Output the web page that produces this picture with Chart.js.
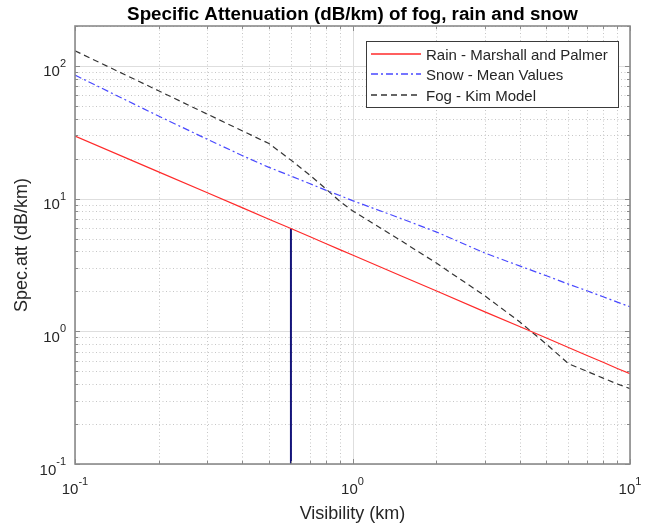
<!DOCTYPE html>
<html>
<head>
<meta charset="utf-8">
<script src="https://cdn.jsdelivr.net/npm/chart.js@4.4.1/dist/chart.umd.min.js"></script>
<style>
  body { margin: 0; background: #fff; }
  #wrap { width: 656px; height: 527px; }
</style>
</head>
<body>
<div id="wrap"><canvas id="attChart" width="656" height="527"></canvas></div>
<script>
// visibility (km) and specific attenuation (dB/km) per weather type
const visibility = [0.1, 0.2, 0.3, 0.4, 0.5, 0.6, 0.7, 0.8, 0.9, 1, 1.5, 2, 3, 4, 5, 6, 7, 8, 9, 10];
const rainAtt = [29.6, 15.9, 11.06, 8.55, 7.0, 5.95, 5.18, 4.59, 4.13, 3.76, 2.61, 2.02, 1.40, 1.087, 0.89, 0.755, 0.657, 0.584, 0.525, 0.48];
const snowAtt = [85.3, 41.9, 28.0, 21.15, 17.2, 14.8, 13.0, 11.6, 10.55, 9.66, 7.07, 5.62, 3.89, 3.11, 2.62, 2.27, 2.02, 1.82, 1.66, 1.53];
const fogAtt = [130, 65, 43.3, 32.5, 26, 19.5, 15.1, 11.9, 9.54, 8.1, 4.8, 3.28, 1.85, 1.18, 0.80, 0.57, 0.499, 0.444, 0.401, 0.37];
const seriesNames = ['Rain - Marshall and Palmer', 'Snow - Mean Values', 'Fog - Kim Model'];

// marker drawn down from the rain curve
const markerVis = 0.6;
const markerIdx = visibility.indexOf(markerVis);

const xRange = [0.1, 10];
const yRange = [0.1, 200];

const FONT = '"Liberation Sans", Arial, Helvetica, sans-serif';

// line styles: rain solid red, snow dash-dot blue, fog dashed black
const lineStyles = [
    { color: '#ff2a2a', dash: [] },
    { color: '#4848ff', dash: [7, 3, 2, 3] },
    { color: '#333333', dash: [6, 4] }
];

function toPoints(vals) {
    return visibility.map((v, i) => ({ x: v, y: vals[i] }));
}

// 1..9 x 10^n values inside [min, max]
function logTicks(min, max) {
    const out = [];
    for (let e = Math.floor(Math.log10(min)); e <= Math.ceil(Math.log10(max)); e++) {
        for (let m = 1; m <= 9; m++) {
            const v = m * Math.pow(10, e);
            if (v >= min * 0.999 && v <= max * 1.001) out.push({ v: v, major: m === 1, exp: e });
        }
    }
    return out;
}

function powLabel(c, exp, x, yBase, align) {
    const base = '10', sup = String(exp);
    c.font = '15px ' + FONT;
    const wb = c.measureText(base).width;
    c.font = '11px ' + FONT;
    const ws = c.measureText(sup).width;
    const left = align === 'center' ? x - (wb + ws) / 2 : x - (wb + ws);
    c.textAlign = 'left';
    c.font = '15px ' + FONT;
    c.fillText(base, left, yBase);
    c.font = '11px ' + FONT;
    c.fillText(sup, left + wb, yBase - 9.5);
}

const axesStyle = {
    id: 'axesStyle',
    beforeDraw(chart) {
        const c = chart.ctx;
        c.save();
        c.fillStyle = '#fff';
        c.fillRect(0, 0, chart.width, chart.height);
        c.restore();
    },
    beforeDatasetsDraw(chart) {
        const c = chart.ctx, a = chart.chartArea;
        const xs = chart.scales.x, ys = chart.scales.y;
        const xt = logTicks(xRange[0], xRange[1]);
        const yt = logTicks(yRange[0], yRange[1]);
        c.save();
        c.lineWidth = 1;
        // minor grid, dotted
        c.strokeStyle = '#c6c6c6';
        c.setLineDash([1, 2.5]);
        xt.filter(t => !t.major).forEach(t => {
            const px = Math.round(xs.getPixelForValue(t.v)) + 0.5;
            c.beginPath(); c.moveTo(px, a.top); c.lineTo(px, a.bottom); c.stroke();
        });
        yt.filter(t => !t.major).forEach(t => {
            const py = Math.round(ys.getPixelForValue(t.v)) + 0.5;
            c.beginPath(); c.moveTo(a.left, py); c.lineTo(a.right, py); c.stroke();
        });
        // major grid, solid
        c.setLineDash([]);
        c.strokeStyle = '#dedede';
        xt.filter(t => t.major).forEach(t => {
            const px = Math.round(xs.getPixelForValue(t.v)) + 0.5;
            c.beginPath(); c.moveTo(px, a.top); c.lineTo(px, a.bottom); c.stroke();
        });
        yt.filter(t => t.major).forEach(t => {
            const py = Math.round(ys.getPixelForValue(t.v)) + 0.5;
            c.beginPath(); c.moveTo(a.left, py); c.lineTo(a.right, py); c.stroke();
        });
        c.restore();
    },
    afterDatasetsDraw(chart) {
        const c = chart.ctx, a = chart.chartArea;
        const xs = chart.scales.x, ys = chart.scales.y;
        const xt = logTicks(xRange[0], xRange[1]);
        const yt = logTicks(yRange[0], yRange[1]);
        c.save();

        // box and inward ticks on all four sides
        c.strokeStyle = '#8a8a8a';
        c.lineWidth = 1;
        xt.forEach(t => {
            const px = Math.round(xs.getPixelForValue(t.v)) + 0.5;
            const len = t.major ? 5 : 3;
            c.beginPath();
            c.moveTo(px, a.bottom); c.lineTo(px, a.bottom - len);
            c.moveTo(px, a.top); c.lineTo(px, a.top + len);
            c.stroke();
        });
        yt.forEach(t => {
            const py = Math.round(ys.getPixelForValue(t.v)) + 0.5;
            const len = t.major ? 5 : 3;
            c.beginPath();
            c.moveTo(a.left, py); c.lineTo(a.left + len, py);
            c.moveTo(a.right, py); c.lineTo(a.right - len, py);
            c.stroke();
        });
        c.lineWidth = 1.6;
        c.strokeRect(Math.round(a.left), Math.round(a.top), Math.round(a.right - a.left), Math.round(a.bottom - a.top));

        // tick labels
        c.fillStyle = '#262626';
        c.textBaseline = 'alphabetic';
        xt.filter(t => t.major).forEach(t => {
            powLabel(c, t.exp, xs.getPixelForValue(t.v), a.bottom + 30, 'center');
        });
        yt.filter(t => t.major).forEach(t => {
            powLabel(c, t.exp, a.left - 9, ys.getPixelForValue(t.v) + 10.5, 'right');
        });

        // axis titles
        c.font = '18px ' + FONT;
        c.textAlign = 'center';
        c.fillText('Visibility (km)', (a.left + a.right) / 2, 519);
        c.save();
        c.translate(27, (a.top + a.bottom) / 2);
        c.rotate(-Math.PI / 2);
        c.fillText('Spec.att (dB/km)', 0, 0);
        c.restore();

        // title
        c.fillStyle = '#000';
        c.font = 'bold 18.8px ' + FONT;
        c.fillText('Specific Attenuation (dB/km) of fog, rain and snow', (a.left + a.right) / 2, 19.5);

        // legend box, top right inside the axes
        const lx = a.right - 264, ly = a.top + 15, lw = 252, lh = 66;
        c.fillStyle = '#fff';
        c.fillRect(lx, ly, lw, lh);
        c.strokeStyle = '#3a3a3a';
        c.lineWidth = 1;
        c.strokeRect(lx + 0.5, ly + 0.5, lw, lh);
        seriesNames.forEach((name, i) => {
            const cy = Math.round(ly + 12.5 + i * 20.5);
            c.save();
            c.strokeStyle = lineStyles[i].color;
            c.lineWidth = 1.4;
            c.setLineDash(lineStyles[i].dash);
            c.beginPath(); c.moveTo(lx + 5, cy); c.lineTo(lx + 55, cy); c.stroke();
            c.restore();
            c.fillStyle = '#262626';
            c.font = '15px ' + FONT;
            c.textAlign = 'left';
            c.fillText(name, lx + 60, cy + 5.5);
        });
        c.restore();
    }
};

const seriesValues = [rainAtt, snowAtt, fogAtt];
const datasets = seriesNames.map((name, i) => ({
    label: name,
    data: toPoints(seriesValues[i]),
    borderColor: lineStyles[i].color,
    borderWidth: 1.2,
    borderDash: lineStyles[i].dash,
    pointRadius: 0,
    tension: 0
}));
datasets.push({
    label: 'marker',
    data: [{ x: markerVis, y: yRange[0] }, { x: markerVis, y: rainAtt[markerIdx] }],
    borderColor: '#14147a',
    borderWidth: 2,
    pointRadius: 0
});

const ctx = document.getElementById('attChart');
new Chart(ctx, {
    type: 'line',
    data: { datasets: datasets },
    options: {
        responsive: false,
        animation: false,
        layout: { padding: { left: 75, right: 26, top: 26, bottom: 63 } },
        plugins: {
            legend: { display: false },
            tooltip: { enabled: false }
        },
        scales: {
            x: { type: 'logarithmic', display: false, min: xRange[0], max: xRange[1] },
            y: { type: 'logarithmic', display: false, min: yRange[0], max: yRange[1] }
        }
    },
    plugins: [axesStyle]
});
</script>
</body>
</html>
